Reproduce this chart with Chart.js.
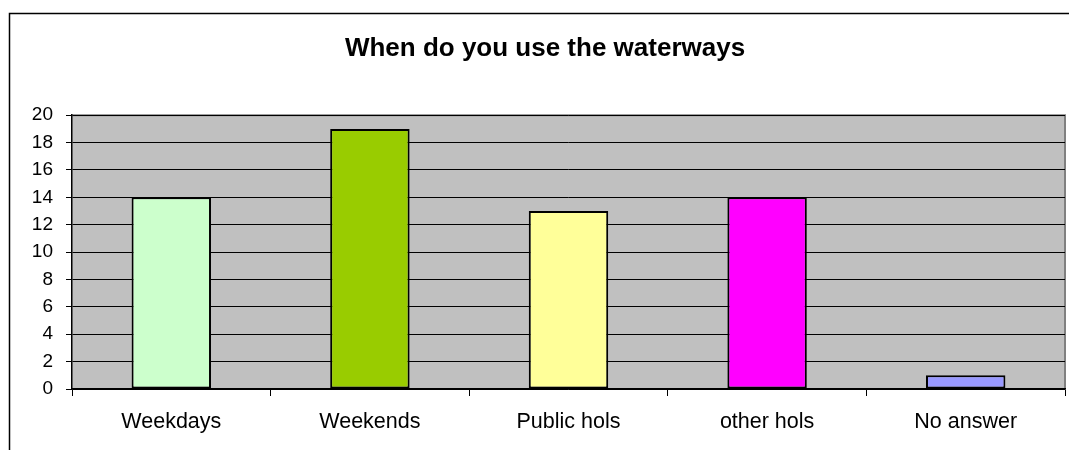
<!DOCTYPE html>
<html>
<head>
<meta charset="utf-8">
<script src="https://cdn.jsdelivr.net/npm/chart.js@4.4.0/dist/chart.umd.min.js"></script>
<style>
html,body{margin:0;padding:0;background:#fff;}
#wrap{position:absolute;left:0;top:0;width:1069px;height:450px;}
</style>
</head>
<body>
<div id="wrap"><canvas id="c" width="1069" height="450"></canvas></div>
<script>
const categories = ["Weekdays", "Weekends", "Public hols", "other hols", "No answer"];
const values = [14, 19, 13, 14, 1];
const barColors = ["#CCFFCC", "#99CC00", "#FFFF99", "#FF00FF", "#9999FF"];
const yTicks = [0, 2, 4, 6, 8, 10, 12, 14, 16, 18, 20];
const titleText = "When do you use the waterways";

const FONT = "'Liberation Sans', Arial, sans-serif";

const frame = {
  id: 'frame',
  beforeDraw(chart) {
    const ctx = chart.ctx;
    const a = chart.chartArea;
    ctx.save();
    ctx.fillStyle = '#fff';
    ctx.fillRect(0, 0, chart.width, chart.height);
    ctx.strokeStyle = '#000';
    ctx.lineWidth = 1.5;
    ctx.strokeRect(9.5, 13.5, chart.width + 20, chart.height + 20);
    ctx.fillStyle = '#C0C0C0';
    ctx.fillRect(a.left, a.top, a.right - a.left, a.bottom - a.top);
    ctx.strokeStyle = '#808080';
    ctx.lineWidth = 2;
    ctx.beginPath();
    ctx.moveTo(a.left, a.top);
    ctx.lineTo(a.right, a.top);
    ctx.lineTo(a.right, a.bottom);
    ctx.stroke();
    ctx.restore();
  }
};

new Chart(document.getElementById('c'), {
  type: 'bar',
  data: {
    labels: categories,
    datasets: [{
      data: values,
      backgroundColor: barColors,
      borderColor: '#000',
      borderWidth: 2,
      borderSkipped: false,
      categoryPercentage: 0.4,
      barPercentage: 1.0
    }]
  },
  plugins: [frame],
  options: {
    responsive: false,
    animation: false,
    layout: { padding: { left: 25, right: 4, top: 0, bottom: 0 } },
    plugins: {
      legend: { display: false },
      tooltip: { enabled: false },
      title: {
        display: true,
        text: titleText,
        color: '#000',
        font: { family: FONT, size: 26, weight: 'bold', lineHeight: 1.2 },
        padding: { top: 33, bottom: 51 }
      }
    },
    scales: {
      x: {
        offset: true,
        grid: {
          offset: true,
          drawOnChartArea: false,
          drawTicks: true,
          tickLength: 7,
          color: '#000',
          lineWidth: 1
        },
        border: { display: true, color: '#000', width: 1.5 },
        ticks: {
          color: '#000',
          font: { family: FONT, size: 21.5 },
          padding: 13,
          maxRotation: 0
        },
        afterFit(s) { s.height = 61; }
      },
      y: {
        min: 0,
        max: 20,
        afterBuildTicks(s) { s.ticks = yTicks.map(v => ({ value: v })); },
        grid: {
          color: '#000',
          lineWidth: 1,
          drawTicks: true,
          tickLength: 6
        },
        border: { display: true, color: '#000', width: 1.5 },
        ticks: {
          color: '#000',
          font: { family: FONT, size: 19 },
          padding: 13
        },
        afterFit(s) { s.width = 47; }
      }
    }
  }
});
</script>
</body>
</html>
